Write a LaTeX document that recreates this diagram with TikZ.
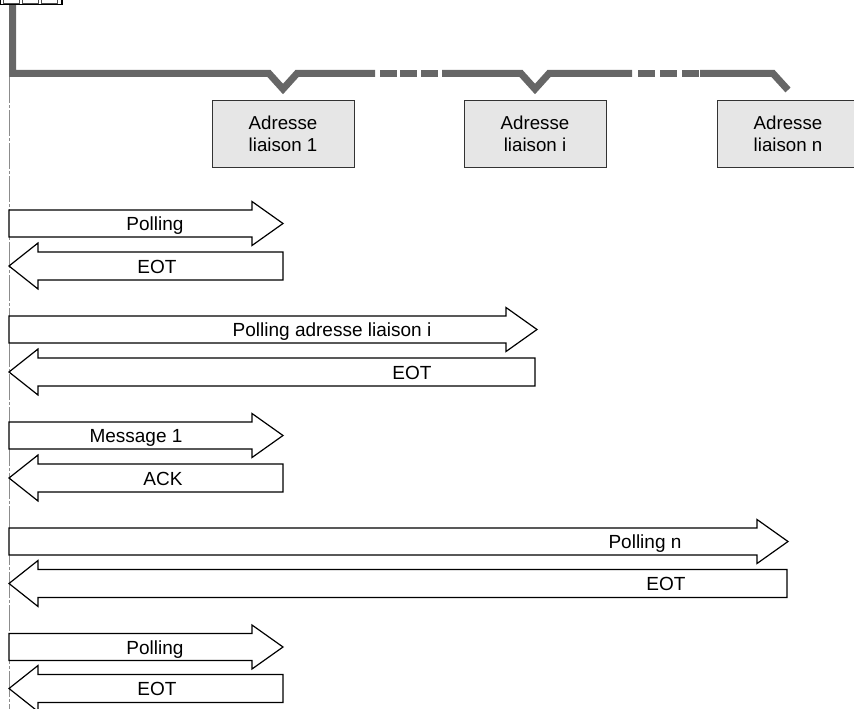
\documentclass[tikz,border=0pt]{standalone}
\usepackage{fontspec}
\setmainfont{Liberation Sans}
\definecolor{busgray}{HTML}{666666}
\definecolor{boxfill}{HTML}{E6E6E6}
\definecolor{boxline}{HTML}{333333}
\definecolor{lifegray}{HTML}{8C8C8C}
\tikzset{
  bus/.style={line width=7pt,draw=busgray,line join=miter},
  busdash/.style={line width=7pt,draw=busgray,line cap=butt},
  station/.style={draw=boxline,fill=boxfill,line width=0.9pt,minimum width=142pt,
    minimum height=67pt,inner sep=0pt,align=center,
    font=\fontsize{18.7}{22}\selectfont},
  msgarrow/.style={draw=black,fill=white,line width=1.2pt,line join=miter},
  msglabel/.style={anchor=base,inner sep=0pt,font=\fontsize{19}{22}\selectfont},
  lifeline/.style={draw=lifegray,line width=0.9pt,dash pattern=on 26pt off 2pt on 3pt off 2pt}
}
% right-pointing block arrow: #1 = centre y, #2 = tip x
\newcommand\sendarrow[2]{%
  \draw[msgarrow] (9,{#1-13.5}) -- ({#2-31},{#1-13.5}) -- ({#2-31},{#1-22})
    -- (#2,#1) -- ({#2-31},{#1+22}) -- ({#2-31},{#1+13.5}) -- (9,{#1+13.5}) -- cycle;}
% left-pointing block arrow: #1 = centre y, #2 = right end x
\newcommand\replyarrow[2]{%
  \draw[msgarrow] (#2,{#1-14}) -- (38,{#1-14}) -- (38,{#1-23}) -- (9,#1)
    -- (38,{#1+23}) -- (38,{#1+14}) -- (#2,{#1+14}) -- cycle;}
\begin{document}
\begin{tikzpicture}[x=1pt,y=-1pt]
\useasboundingbox (0,0) rectangle (854,709);

% master lifeline
\coordinate (lifetop) at (9,77);
\coordinate (lifebot) at (9,709);
\draw[lifeline] (lifetop) -- (lifebot);

% bus
\draw[bus] (12.5,0) -- (12.5,73.5) -- (269,73.5) -- (283,89) -- (297,73.5) -- (375,73.5);
\foreach \a in {380,400,421}
  \draw[busdash] (\a,73.5) -- ++(17,0);
\draw[bus] (442,73.5) -- (521,73.5) -- (535,89) -- (549,73.5) -- (632,73.5);
\foreach \a in {638,660,682}
  \draw[busdash] (\a,73.5) -- ++(17,0);
\draw[bus,line cap=butt] (700,73.5) -- (773,73.5) -- (788,90);

% master station (cut at the top edge)
\draw[line width=1.3pt,fill=white] (0,-4) rectangle (62,4.5);
\foreach \a in {3,22,41}
  \draw[line width=0.8pt,draw=black!70] (\a,-2) rectangle ++(16,5);

% link stations
\node[station] (st1) at (283,133.5) {Adresse\\liaison 1};
\node[station] (sti) at (535,133.5) {Adresse\\liaison i};
\node[station] (stn) at (788,133.5) {Adresse\\liaison n};

% exchanges
\sendarrow{223.5}{283}
\node[msglabel] (m1) at (155,230.5) {Polling};
\replyarrow{266}{283}
\node[msglabel] (r1) at (157,273) {EOT};

\sendarrow{329.5}{537}
\node[msglabel] (m2) at (332,336.5) {Polling adresse liaison i};
\replyarrow{372}{535}
\node[msglabel] (r2) at (412,379) {EOT};

\sendarrow{435.5}{283}
\node[msglabel] (m3) at (136,442.5) {Message 1};
\replyarrow{478}{283}
\node[msglabel] (r3) at (163,485) {ACK};

\sendarrow{541.5}{788}
\node[msglabel] (m4) at (645,548.5) {Polling n};
\replyarrow{583.5}{787}
\node[msglabel] (r4) at (666,590.5) {EOT};

\sendarrow{647}{283}
\node[msglabel] (m5) at (155,654) {Polling};
\replyarrow{688.5}{283}
\node[msglabel] (r5) at (157,695.5) {EOT};
\end{tikzpicture}
\end{document}
